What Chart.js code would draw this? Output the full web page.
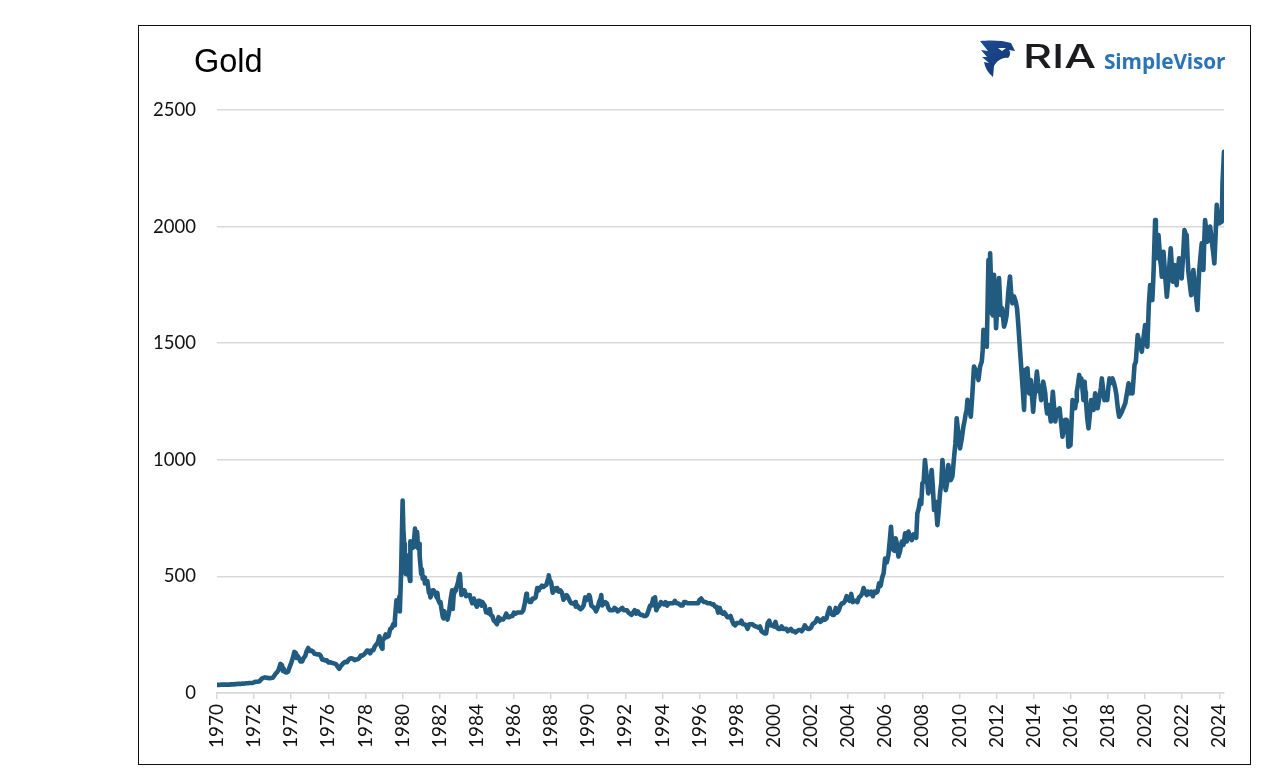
<!DOCTYPE html>
<html><head><meta charset="utf-8">
<style>
html,body{margin:0;padding:0;background:#fff;width:1280px;height:779px;overflow:hidden}
#frame{position:absolute;left:138px;top:25px;width:1111px;height:738px;border:1.5px solid #111;box-sizing:content-box;pointer-events:none}
canvas{position:absolute;left:0;top:0}
#title{position:absolute;left:194px;top:42px;font:32.5px "Liberation Sans",Arial,sans-serif;color:#000;line-height:38px}
#ria{position:absolute;left:1023px;top:37px;font:500 32px Inter,"Liberation Sans",sans-serif;letter-spacing:0;color:#1c1c1e;line-height:40px;transform:scaleX(1.4);transform-origin:left}
#sv{position:absolute;left:1104px;top:48px;font:700 20.8px "Open Sans",sans-serif;color:#2a73b7;line-height:26px;letter-spacing:-.1px}
#eagle{position:absolute;left:979px;top:40px}
</style></head><body>
<canvas id="c" width="1280" height="779"></canvas>
<div id="frame"></div>
<div id="title">Gold</div>
<svg id="eagle" width="37" height="38" viewBox="0 0 37 38">
<defs><linearGradient id="g" x1="0" y1="0" x2="1" y2="1"><stop offset="0" stop-color="#1d4f94"/><stop offset="1" stop-color="#13306e"/></linearGradient></defs>
<path fill="url(#g)" d="M1 1 C10 0 24 0 32 3 L36 11 L30 10 C32 13 31 16 29 18 C23 17 18 21 15 26 L14 37 C9 33 6 28 5 22 L10 23 L3 17 L8 17 L2 10 L9 11 Z"/>
<path fill="#fff" d="M19 8 L27 8 L23 11 Z"/>
</svg>
<div id="ria">RIA</div>
<div id="sv">SimpleVisor</div>
<script src="https://cdn.jsdelivr.net/npm/chart.js@4"></script>
<script>
const gold1970s=[35,35,35,36,36,36,36,36,36,37,37,37,
38,39,39,39,40,40,41,42,42,43,43,43,
46,48,48,49,54,62,65,67,65,65,63,64,
65,74,84,90,102,125,120,106,90,88,92,112,
130,150,176,172,160,150,135,135,150,158,180,193,
180,182,178,168,167,165,166,160,143,143,139,140,
131,132,130,128,126,124,112,104,115,123,130,134,
132,142,148,149,146,141,144,145,150,161,160,165,
172,182,181,170,183,183,200,208,217,243,200,226,
233,251,240,245,275,279,296,315,397,382,415,512];
const gold1980s=[825,640,510,515,515,650,620,625,705,650,620,590,
510,490,495,480,480,430,410,430,440,430,410,400,
385,365,325,350,335,315,345,400,440,420,440,455,
480,510,420,430,440,415,420,420,405,385,405,385,
370,395,395,375,385,375,345,345,340,335,330,310,
305,295,325,320,315,315,325,340,325,325,330,330,
345,340,345,345,345,345,355,385,425,400,390,390,
405,405,410,450,450,450,460,455,460,465,490,485,
475,430,445,450,450,435,440,430,400,410,420,410,
395,385,385,380,370,375,365,360,365,375,410,400];
const gold1990s=[415,415,375,370,365,350,365,390,405,375,385,390,
385,365,355,355,355,365,360,350,355,360,365,355,
355,355,345,340,335,345,355,340,350,340,335,335,
330,330,335,355,375,375,405,375,355,370,375,390,
385,380,390,375,385,385,385,385,395,385,385,380,
375,375,390,390,385,385,385,385,385,385,385,385,
400,405,395,390,390,385,385,385,380,380,370,370,
345,365,345,340,345,335,325,325,330,310,295,290,
300,300,300,310,295,295,290,275,295,295,295,290,
285,285,280,285,265,260,255,255,300,310,290,290];
const gold2000to2005=[285,305,280,275,275,285,275,275,275,265,270,275,
265,265,260,265,270,270,265,275,290,280,275,275,
280,295,300,305,320,315,305,310,320,315,320,345,
365,340,335,335,365,345,355,375,385,385,395,415,
400,395,425,390,395,395,390,410,415,425,450,435,
420,435,425,435,415,435,430,435,470,460,495,515];
/* mid-month swings in the early decades */
const swingYears=[1973.55,1974.3,1978.9,1979.55,1979.85,1980.04,1980.12,1980.21,1980.3,1980.4,1980.6,1980.78,1980.9,1981.04,1981.2,1981.45,1981.62,1981.87,1982.04,1982.21,1982.3,1982.7,1982.87,1983.04,1983.3,1983.62,1984.3,1984.7,1985.21,1986.7,1987.04,1987.3,1987.87,1988.3,1989.3,1990.04,1990.3,1990.7,1993.6];
const swingValues=[95,150,190,290,350,700,560,590,505,480,640,690,640,530,470,440,440,430,390,320,330,360,450,500,440,415,390,360,310,410,405,440,505,440,390,420,365,420,410];
/* from 2006 the line is read point by point */
const lateYears2006=[2005.99,2006.08,2006.17,2006.24,2006.31,2006.37,2006.44,2006.5,2006.56,2006.63,2006.71,2006.8,2006.89,2006.98,2007.07,2007.16,2007.25,2007.34,2007.43,2007.52,2007.61,2007.67,2007.73,2007.8,2007.88,2007.94,2008.00,2008.07,2008.14,2008.23,2008.32,2008.41,2008.50,2008.56,2008.63,2008.72,2008.81,2008.88,2008.95,2009.02,2009.08,2009.17,2009.26,2009.33,2009.40,2009.47,2009.53,2009.62,2009.71,2009.78,2009.85,2009.94,2010.03,2010.12,2010.21,2010.28,2010.34,2010.38,2010.43,2010.52,2010.61,2010.7,2010.78,2010.9,2011.02,2011.11,2011.20,2011.25,2011.29,2011.38,2011.47];
const lateValues2006=[577,560,592,650,713,640,613,610,663,640,585,610,649,635,685,650,692,665,656,680,670,665,770,790,828,810,899,905,999,930,856,880,956,890,785,820,720,780,856,900,999,920,870,900,978,930,913,930,1013,1070,1178,1110,1049,1090,1142,1170,1199,1210,1257,1215,1185,1290,1400,1380,1342,1400,1421,1470,1557,1510,1485];
const lateYears2011=[2011.56,2011.60,2011.65,2011.70,2011.74,2011.80,2011.86,2011.92,2011.97,2012.05,2012.13,2012.22,2012.3,2012.40,2012.47,2012.54,2012.63,2012.72,2012.78,2012.85,2012.94,2013.03,2013.1,2013.17,2013.26,2013.36,2013.48,2013.54,2013.66,2013.75,2013.84,2013.97];
const lateValues2011=[1857,1640,1886,1760,1628,1620,1793,1700,1564,1680,1779,1621,1650,1571,1590,1621,1720,1786,1720,1671,1700,1678,1650,1578,1471,1357,1214,1385,1392,1285,1342,1206];
const lateYears2014=[2014.02,2014.08,2014.17,2014.23,2014.29,2014.35,2014.40,2014.46,2014.51,2014.57,2014.62,2014.67,2014.72,2014.80,2014.86,2014.92,2014.98,2015.03,2015.1,2015.16,2015.22,2015.28,2015.33,2015.39,2015.47,2015.55,2015.62,2015.69,2015.73,2015.78,2015.83,2015.87,2015.98,2016.03,2016.09,2016.16,2016.23,2016.28,2016.32,2016.38,2016.45,2016.5,2016.56,2016.62,2016.68,2016.74,2016.78,2016.81,2016.88,2016.95];
const lateValues2014=[1260,1299,1378,1330,1292,1290,1256,1300,1335,1310,1285,1230,1199,1235,1200,1164,1240,1292,1220,1164,1200,1214,1190,1221,1160,1099,1130,1171,1150,1171,1120,1056,1063,1150,1256,1240,1221,1250,1292,1320,1364,1330,1349,1310,1256,1335,1290,1256,1180,1135];
const lateYears2017=[2017.02,2017.09,2017.16,2017.22,2017.27,2017.31,2017.38,2017.44,2017.5,2017.56,2017.62,2017.67,2017.74,2017.81,2017.88,2017.96,2018.02,2018.08,2018.16,2018.24,2018.32,2018.39,2018.45,2018.50,2018.55,2018.60,2018.68,2018.75,2018.84,2018.93,2019.02,2019.11,2019.15,2019.20,2019.26,2019.32,2019.38,2019.43,2019.5,2019.60,2019.82,2020.00,2020.12,2020.20,2020.27,2020.39,2020.45];
const lateValues2017=[1190,1256,1240,1214,1250,1285,1250,1221,1250,1278,1310,1349,1300,1256,1280,1256,1310,1349,1330,1349,1330,1307,1280,1242,1210,1185,1195,1206,1225,1242,1285,1328,1305,1285,1300,1285,1350,1407,1420,1535,1463,1578,1485,1664,1749,1685,1792];
const lateYears2020=[2020.54,2020.58,2020.63,2020.68,2020.72,2020.76,2020.81,2020.86,2020.90,2020.95,2020.99,2021.08,2021.17,2021.22,2021.26,2021.32,2021.38,2021.44,2021.49,2021.54,2021.58,2021.64,2021.70,2021.76,2021.83,2021.9,2021.97,2022.05,2022.12,2022.18,2022.24,2022.28,2022.33,2022.4,2022.48,2022.54,2022.60,2022.7,2022.82,2022.86,2022.91,2022.98,2023.05,2023.09,2023.14,2023.18,2023.23,2023.3,2023.36,2023.43,2023.50,2023.56,2023.63,2023.68,2023.73,2023.8,2023.86,2023.92,2023.99,2024.06,2024.13,2024.17,2024.25];
const lateValues2020=[2028,1950,1864,1910,1964,1920,1857,1830,1785,1850,1892,1790,1699,1740,1778,1850,1907,1830,1764,1800,1835,1790,1749,1810,1864,1820,1778,1880,1985,1970,1964,1880,1807,1760,1706,1760,1814,1730,1642,1720,1807,1870,1928,1870,1814,1920,2028,1980,1935,1970,2000,1960,1914,1880,1842,1970,2093,2050,2014,2018,2021,2186,2321];
const monthly=[...gold1970s,...gold1980s,...gold1990s,...gold2000to2005];
const startYear=1970;
const lateYears=[...lateYears2006,...lateYears2011,...lateYears2014,...lateYears2017,...lateYears2020];
const lateValues=[...lateValues2006,...lateValues2011,...lateValues2014,...lateValues2017,...lateValues2020];
const lastX=lateYears[lateYears.length-1];
const points=monthly.map((y,i)=>({x:startYear+i/12,y}))
  .concat(swingYears.map((x,i)=>({x,y:swingValues[i]})))
  .concat(lateYears.map((x,i)=>({x,y:lateValues[i]})))
  .sort((a,b)=>a.x-b.x);
const yTicks=[0,500,1000,1500,2000,2500];
const AX='#d9d9d9';
new Chart(document.getElementById('c'),{
 type:'line',
 data:{datasets:[{label:'Gold',data:points,borderColor:'#215b80',borderWidth:4.6,pointRadius:0,tension:0,borderJoinStyle:'round',borderCapStyle:'round',fill:false}]},
 options:{
  responsive:false,animation:false,devicePixelRatio:1,parsing:false,
  layout:{padding:{left:0,right:56,top:110,bottom:0}},
  plugins:{legend:{display:false},title:{display:false},tooltip:{enabled:false}},
  scales:{
   x:{type:'linear',min:startYear,max:lastX,
    afterFit(s){s.height=86;},
    afterBuildTicks(s){s.ticks=[];for(let v=startYear;v<=lastX;v+=2)s.ticks.push({value:v});},
    grid:{drawOnChartArea:false,drawTicks:true,tickLength:6,color:AX,lineWidth:1.5},
    border:{color:AX,width:1.5},
    ticks:{autoSkip:false,minRotation:90,maxRotation:90,padding:5,color:'#111',font:{family:'Lato',size:19},callback:v=>String(v)}},
   y:{min:0,max:2500,
    afterFit(s){s.width=217;},
    afterBuildTicks(s){s.ticks=yTicks.map(v=>({value:v}));},
    grid:{drawTicks:false,color:AX,lineWidth:1.5},
    border:{display:false},
    ticks:{padding:21,color:'#111',font:{family:'Lato',size:18.5},callback:v=>String(v)}}
  }
 }
});
</script>
</body></html>
